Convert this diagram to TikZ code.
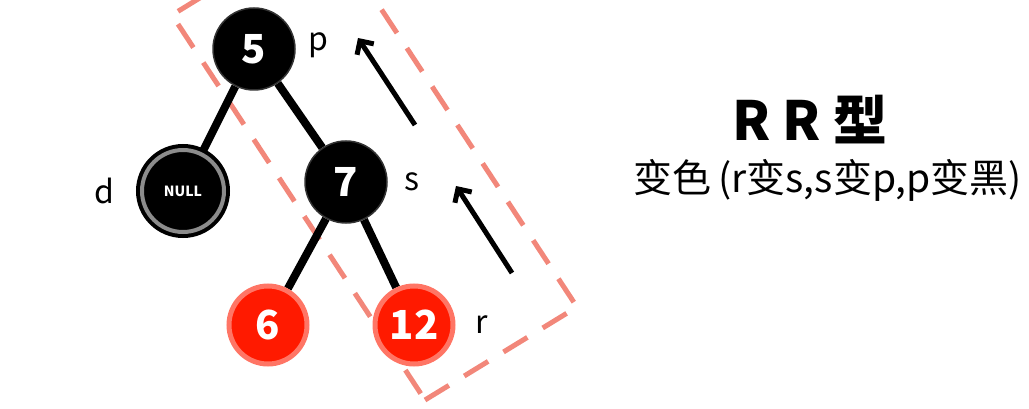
\documentclass[tikz,border=0pt]{standalone}
\usepackage{fontspec}
\setmainfont{Noto Sans CJK SC}
\usetikzlibrary{positioning, arrows.meta, backgrounds}
\definecolor{nodered}{HTML}{FF1A00}
\definecolor{glowred}{HTML}{FF7565}
\definecolor{dashred}{HTML}{F2877A}
\definecolor{ringgray}{HTML}{8C8C8C}

\begin{document}
\begin{tikzpicture}[>={Straight Barb[length=10pt,width=20pt]},on grid,semithick,
    black node/.style={circle,fill=black,draw=black!80,line width=1.5pt,minimum size=82pt,inner sep=0pt,text=white,font=\bfseries\fontsize{40}{40}\selectfont},
    red node/.style={circle,fill=nodered,draw=glowred,line width=5pt,minimum size=78pt,inner sep=0pt,text=white,font=\bfseries\fontsize{40}{40}\selectfont},
    null node/.style={circle,fill=black,draw=black,line width=4pt,double=ringgray,double distance=4pt,minimum size=82pt,inner sep=0pt,text=white,font=\bfseries\fontsize{14}{14}\selectfont},
    tag/.style={font=\fontsize{32}{32}\selectfont},
    link/.style={line width=8pt},
    move/.style={->,line width=5pt},
    rotbox/.style={dashred,line width=5pt,dash pattern=on 28pt off 18pt}]
                \useasboundingbox (0,0) rectangle (1029pt,-409pt);
                \clip (0,0) rectangle (1029pt,-409pt);

                \node[black node] (5) at (254pt,-49pt) {5};
                \node[null node] (null) [below left=142pt and 71pt of 5] {NULL};
                \node[black node] (7) [below right=133pt and 92pt of 5] {7};
                \node[red node] (6) [below left=143pt and 78pt of 7] {6};
                \node[red node] (12) [below right=143pt and 68pt of 7] {12};

                \node[tag] (p) [above right=4pt and 64pt of 5] {p};
                \node[tag] (d) [left=79pt of null] {d};
                \node[tag] (s) [right=66pt of 7] {s};
                \node[tag] (r) [right=68pt of 12] {r};

                \begin{scope}[on background layer]
                % rotated group around p, s, r
                \draw[rotbox] (425pt,-400pt) -- (577pt,-307pt) -- (324pt,78pt) -- (172pt,-15pt) -- cycle;
                \path[link]
                (5) edge (null)
                    edge (7)
                (7) edge (6)
                    edge (12)
                ;
                \end{scope}

                \coordinate (t1) at (415pt,-125pt);
                \coordinate (h1) at (358pt,-38pt);
                \coordinate (t2) at (512pt,-273pt);
                \coordinate (h2) at (456pt,-186pt);
                \draw[move] (t1) -- (h1);
                \draw[move] (t2) -- (h2);

                \node[font=\bfseries\fontsize{54}{54}\selectfont] (title) at (810pt,-120pt) {R R 型};
                \node[font=\fontsize{39}{39}\selectfont] (rule) at (828pt,-180pt) {变色\,(r变s,s变p,p变黑)};
            \end{tikzpicture}
\end{document}
